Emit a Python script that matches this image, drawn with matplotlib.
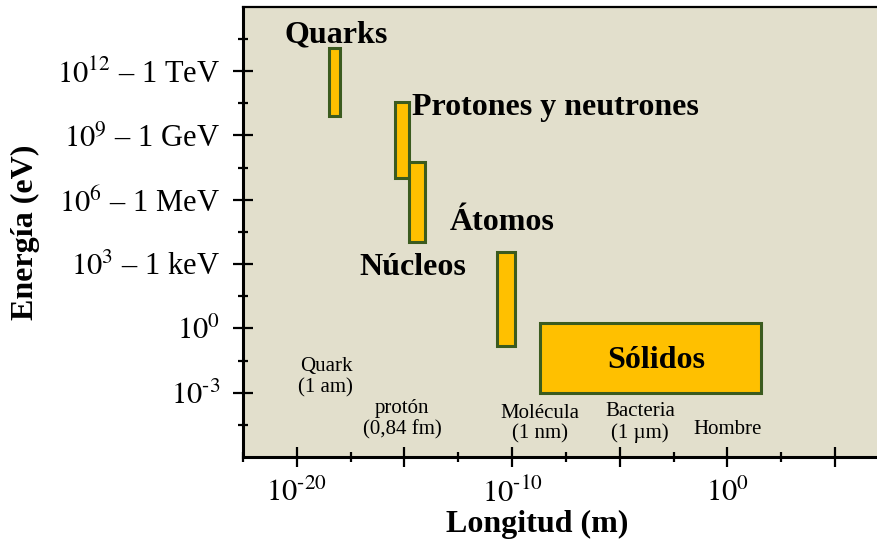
import matplotlib
matplotlib.use("Agg")
import matplotlib.pyplot as plt
from matplotlib.patches import Rectangle
from matplotlib.ticker import FixedLocator, NullFormatter

plt.rcParams['font.family'] = ['Liberation Serif', 'DejaVu Serif']
plt.rcParams['mathtext.fontset'] = 'stix'

# boxes: name, log10 length range, log10 energy range
box_names = ["Quarks", "Protones y neutrones", "Núcleos", "Átomos", "Sólidos"]
box_x = [(-18.5, -18.0), (-15.45, -14.8), (-14.8, -14.05), (-10.7, -9.85), (-8.7, 1.55)]
box_y = [(9.9, 13.1), (7.0, 10.55), (4.05, 7.75), (-0.8, 3.55), (-3.0, 0.25)]

# bold labels near the boxes (log10 x, log10 y)
big_labels = ["Quarks", "Protones y neutrones", "Núcleos", "Átomos", "Sólidos"]
big_pos = [(-18.17, 13.68), (-14.65, 10.3), (-14.6, 2.85), (-10.45, 4.95), (-3.3, -1.48)]
big_ha = ["center", "left", "center", "center", "center"]

# size examples along the length axis
ex_labels = ["Quark\n(1 am)", "protón\n(0,84 fm)", "Molécula\n(1 nm)", "Bacteria\n(1 µm)", "Hombre"]
ex_pos = [(-18.65, -2.3), (-15.1, -4.22), (-8.7, -4.45), (-4.05, -4.37), (0.0, -4.7)]

ytick_vals = [-3, 0, 3, 6, 9, 12]
ytick_labels = [r"$10^{\text{-}3}$", "$10^{0}$", "$10^{3}$ – 1 keV", "$10^{6}$ – 1 MeV",
                "$10^{9}$ – 1 GeV", "$10^{12}$ – 1 TeV"]
xtick_vals = [-20, -15, -10, -5, 0, 5]
xtick_labels = [r"$10^{\text{-}20}$", "", r"$10^{\text{-}10}$", "", "$10^{0}$", ""]

fig = plt.figure(figsize=(8.78, 5.41), dpi=100)
ax = fig.add_axes([0.2768, 0.1553, 0.7232, 0.832])
ax.set_facecolor("#E2DFCC")
ax.set_xscale("log")
ax.set_yscale("log")
ax.set_xlim(10 ** -22.5, 10 ** 7)
ax.set_ylim(10 ** -6, 10 ** 15)

for (x0, x1), (y0, y1) in zip(box_x, box_y):
    ax.add_patch(Rectangle((10 ** x0, 10 ** y0), 10 ** x1 - 10 ** x0, 10 ** y1 - 10 ** y0,
                           facecolor="#FFC000", edgecolor="#3B5B1F", linewidth=2.2, zorder=3))

for lab, (px, py), ha in zip(big_labels, big_pos, big_ha):
    ax.text(10 ** px, 10 ** py, lab, ha=ha, va="center", fontsize=23,
            fontweight="bold", zorder=4)

for lab, (px, py) in zip(ex_labels, ex_pos):
    ax.text(10 ** px, 10 ** py, lab, ha="center", va="center", fontsize=15,
            linespacing=1.15, zorder=4)

ax.yaxis.set_major_locator(FixedLocator([10.0 ** v for v in ytick_vals]))
ax.set_yticklabels(ytick_labels, fontsize=22)
ax.yaxis.set_minor_locator(FixedLocator([10.0 ** (v + 1.5) for v in range(-6, 14, 3)]))
ax.yaxis.set_minor_formatter(NullFormatter())

ax.xaxis.set_major_locator(FixedLocator([10.0 ** v for v in xtick_vals]))
ax.set_xticklabels(xtick_labels, fontsize=22)
ax.xaxis.set_minor_locator(FixedLocator([10.0 ** (v - 2.5) for v in xtick_vals]))
ax.xaxis.set_minor_formatter(NullFormatter())

ax.tick_params(which="major", direction="inout", length=15, width=1.6, color="black")
ax.tick_params(which="minor", direction="inout", length=7.5, width=1.6, color="black")
ax.tick_params(axis="y", which="major", pad=9)
ax.tick_params(axis="x", which="major", pad=8)

ax.spines["left"].set_linewidth(2.2)
ax.spines["bottom"].set_linewidth(2.2)
ax.spines["top"].set_linewidth(1.6)
ax.spines["right"].set_visible(False)

ax.set_xlabel("Longitud (m)", fontsize=23, fontweight="bold")
ax.xaxis.set_label_coords(0.463, -0.118)
ax.set_ylabel("Energía (eV)", fontsize=23, fontweight="bold")
ax.yaxis.set_label_coords(-0.32, 0.5)

fig.savefig("out.png", dpi=100)
